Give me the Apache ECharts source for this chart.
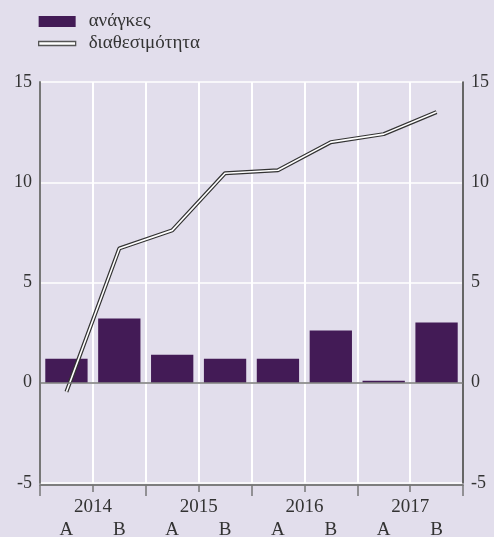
<!DOCTYPE html>
<html>
<head>
<meta charset="utf-8">
<script src="https://cdn.jsdelivr.net/npm/echarts@6/dist/echarts.min.js"></script>
<style>
  html, body { margin: 0; padding: 0; background: #e2deec; }
  #main { width: 494px; height: 537px; }
</style>
</head>
<body>
<div id="main"></div>
<script>
// data
var halves = ['A', 'B', 'A', 'B', 'A', 'B', 'A', 'B'];
var years = ['2014', '2015', '2016', '2017'];
var needs = [1.2, 3.2, 1.4, 1.2, 1.2, 2.6, 0.1, 3.0];
var availability = [-0.45, 6.7, 7.6, 10.45, 10.6, 12.0, 12.4, 13.5];
var yTicks = [-5, 0, 5, 10, 15];

var font = 'Liberation Serif';
var myChart = echarts.init(document.getElementById('main'));

var yAxisBase = {
  type: 'value',
  min: yTicks[0],
  max: yTicks[yTicks.length - 1],
  interval: 5,
  axisTick: { show: false },
  axisLabel: { fontFamily: font, fontSize: 18, color: '#333' }
};

var option = {
  backgroundColor: '#e2deec',
  animation: false,
  legend: {
    orient: 'vertical',
    left: 38,
    top: 12,
    padding: 0,
    itemWidth: 37,
    itemHeight: 11,
    itemGap: 3,
    textStyle: { fontFamily: font, fontSize: 19, color: '#333', padding: [0, 0, 0, 8] },
    data: [
      { name: 'ανάγκες', icon: 'rect' },
      {
        name: 'διαθεσιμότητα',
        icon: 'path://M0,0H37V4H0Z',
        itemStyle: { color: '#fff', borderColor: '#555', borderWidth: 1.3 }
      }
    ]
  },
  grid: { left: 40, right: 31, top: 82, bottom: 54, outerBoundsMode: 'none' },
  xAxis: [
    {
      type: 'category',
      data: halves,
      position: 'bottom',
      offset: 2,
      axisLine: { show: true, onZero: false, lineStyle: { color: '#777', width: 1.5 } },
      axisTick: { show: true, interval: 0, length: 7, lineStyle: { color: '#777', width: 1.5 } },
      axisLabel: { interval: 0, margin: 36, fontFamily: font, fontSize: 19, color: '#333' },
      splitLine: { show: true, interval: 0, lineStyle: { color: '#fff', width: 2 } }
    },
    {
      type: 'category',
      data: years,
      position: 'bottom',
      offset: 2,
      axisLine: { show: true, onZero: false, lineStyle: { color: '#777', width: 1.5 } },
      axisTick: { show: true, interval: 0, length: 11, lineStyle: { color: '#777', width: 1.5 } },
      axisLabel: { interval: 0, margin: 13, fontFamily: font, fontSize: 19, color: '#333' },
      splitLine: { show: false }
    }
  ],
  yAxis: [
    Object.assign({}, yAxisBase, {
      position: 'left',
      axisLine: { show: true, lineStyle: { color: '#777', width: 2 } },
      splitLine: { show: true, lineStyle: { color: '#fff', width: 1.5 } }
    }),
    Object.assign({}, yAxisBase, {
      position: 'right',
      axisLine: { show: true, lineStyle: { color: '#333', width: 1.5 } },
      splitLine: { show: false }
    })
  ],
  series: [
    {
      name: 'ανάγκες',
      type: 'bar',
      data: needs,
      barCategoryGap: '20%',
      itemStyle: { color: '#431b56' },
      markLine: {
        silent: true,
        symbol: 'none',
        label: { show: false },
        lineStyle: { color: '#777', width: 1.5, type: 'solid' },
        data: [{ yAxis: 0 }]
      }
    },
    {
      name: 'διαθεσιμότητα',
      type: 'line',
      data: availability,
      symbol: 'none',
      lineStyle: { color: '#333', width: 4 },
      itemStyle: { color: '#333' },
      z: 3
    },
    {
      name: 'inner',
      type: 'line',
      data: availability,
      symbol: 'none',
      lineStyle: { color: '#fff', width: 1.6 },
      z: 4
    }
  ]
};

myChart.setOption(option);
</script>
</body>
</html>
